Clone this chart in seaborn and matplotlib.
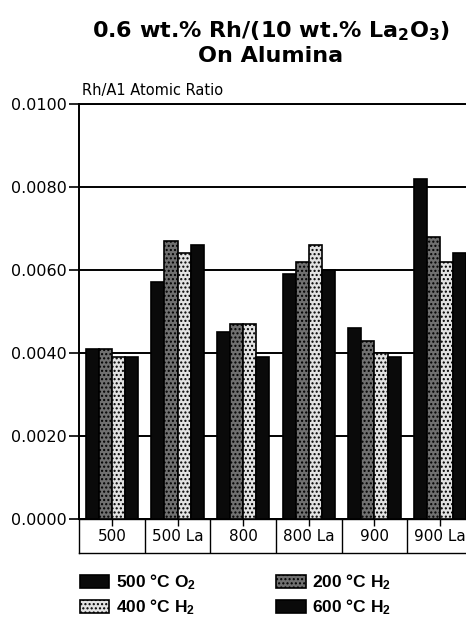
import matplotlib
matplotlib.use("Agg")
import matplotlib.pyplot as plt
import seaborn as sns
import pandas as pd
import numpy as np

categories = ["500", "500 La", "800", "800 La", "900", "900 La"]
series_names = ["500 °C O$_2$", "200 °C H$_2$", "400 °C H$_2$", "600 °C H$_2$"]
o2_500 = [0.0041, 0.0057, 0.0045, 0.0059, 0.0046, 0.0082]
h2_200 = [0.0041, 0.0067, 0.0047, 0.0062, 0.0043, 0.0068]
h2_400 = [0.0039, 0.0064, 0.0047, 0.0066, 0.0040, 0.0062]
h2_600 = [0.0039, 0.0066, 0.0039, 0.0060, 0.0039, 0.0064]
y_ticks = [0.0, 0.002, 0.004, 0.006, 0.008, 0.010]

sns.set_theme(style="white")
plt.rcParams["font.family"] = ["DejaVu Sans"]
plt.rcParams["mathtext.default"] = "regular"
plt.rcParams["text.color"] = "black"
plt.rcParams["xtick.color"] = "black"
plt.rcParams["ytick.color"] = "black"
plt.rcParams["hatch.color"] = "#2a2a2a"

rows = []
for name, vals in zip(series_names, [o2_500, h2_200, h2_400, h2_600]):
    for c, v in zip(categories, vals):
        rows.append({"cat": c, "series": name, "value": v})
df = pd.DataFrame(rows)

W, H = 466, 627
fig = plt.figure(figsize=(W / 100, H / 100), dpi=100)
ax = fig.add_axes([79 / W, 1 - 519 / H, 394 / W, 415 / H])

colors = ["#0a0a0a", "#707070", "#e2e2e2", "#0a0a0a"]
sns.barplot(data=df, x="cat", y="value", hue="series", hue_order=series_names,
            order=categories, palette=colors, width=0.8, saturation=1,
            edgecolor="black", linewidth=1.2, ax=ax, zorder=3)
hatches = [None, "....", "....", None]
for cont, h in zip(ax.containers, hatches):
    for p in cont.patches:
        if h:
            p.set_hatch(h)

ax.set_ylim(0, 0.010)
ax.set_xlim(-0.5, 5.5)
ax.set_yticks(y_ticks)
ax.set_yticklabels([f"{t:.4f}" for t in y_ticks], fontsize=11.5)
ax.yaxis.grid(True, color="black", linewidth=1.4, zorder=0)
ax.set_axisbelow(True)
ax.tick_params(axis="y", direction="out", length=7, width=1.2, pad=2, left=True)
ax.set_xticks(range(len(categories)))
ax.tick_params(axis="x", bottom=True, direction="out", length=5, width=1.0, labelbottom=False)
ax.set_xlabel("")
ax.set_ylabel("")
for s in ["left", "top", "bottom"]:
    ax.spines[s].set_color("black")
    ax.spines[s].set_linewidth(1.4)
ax.spines["right"].set_visible(False)
ax.legend_.remove()

# category box row
bx = fig.add_axes([79 / W, 1 - 553 / H, 394 / W, 34 / H], sharex=ax)
bx.set_zorder(-1)
for i in range(len(categories) - 1):
    bx.axvline(i + 0.5, color="black", linewidth=1.0)
bx.set_ylim(0, 1)
bx.set_yticks([])
bx.set_xticks(range(len(categories)))
bx.set_xticklabels(categories, fontsize=11)
bx.tick_params(axis="x", bottom=False, pad=-23)
for s in ["left", "bottom", "top"]:
    bx.spines[s].set_color("black")
    bx.spines[s].set_linewidth(1.0)
bx.spines["right"].set_visible(False)
bx.set_xlabel("")

fig.text(271 / W, 1 - 19 / H, "0.6 wt.% Rh/(10 wt.% La$_2$O$_3$)\nOn Alumina",
         ha="center", va="top", fontsize=16, fontweight="bold", linespacing=1.2)
fig.text(82 / W, 1 - 90 / H, "Rh/A1 Atomic Ratio", ha="left", va="center", fontsize=10.5)

handles, labels = ax.containers, series_names
order = [0, 2, 1, 3]
leg = fig.legend([handles[i] for i in order], [labels[i] for i in order],
                 loc="lower left", bbox_to_anchor=(64 / W, -6 / H), ncol=2,
                 frameon=False, handlelength=1.7, handleheight=0.75,
                 columnspacing=4.6, labelspacing=0.3, handletextpad=0.4,
                 prop={"family": ["Liberation Sans Narrow", "Liberation Sans", "DejaVu Sans"],
                       "weight": "bold", "size": 12.5})

fig.savefig("out.png", dpi=100)
